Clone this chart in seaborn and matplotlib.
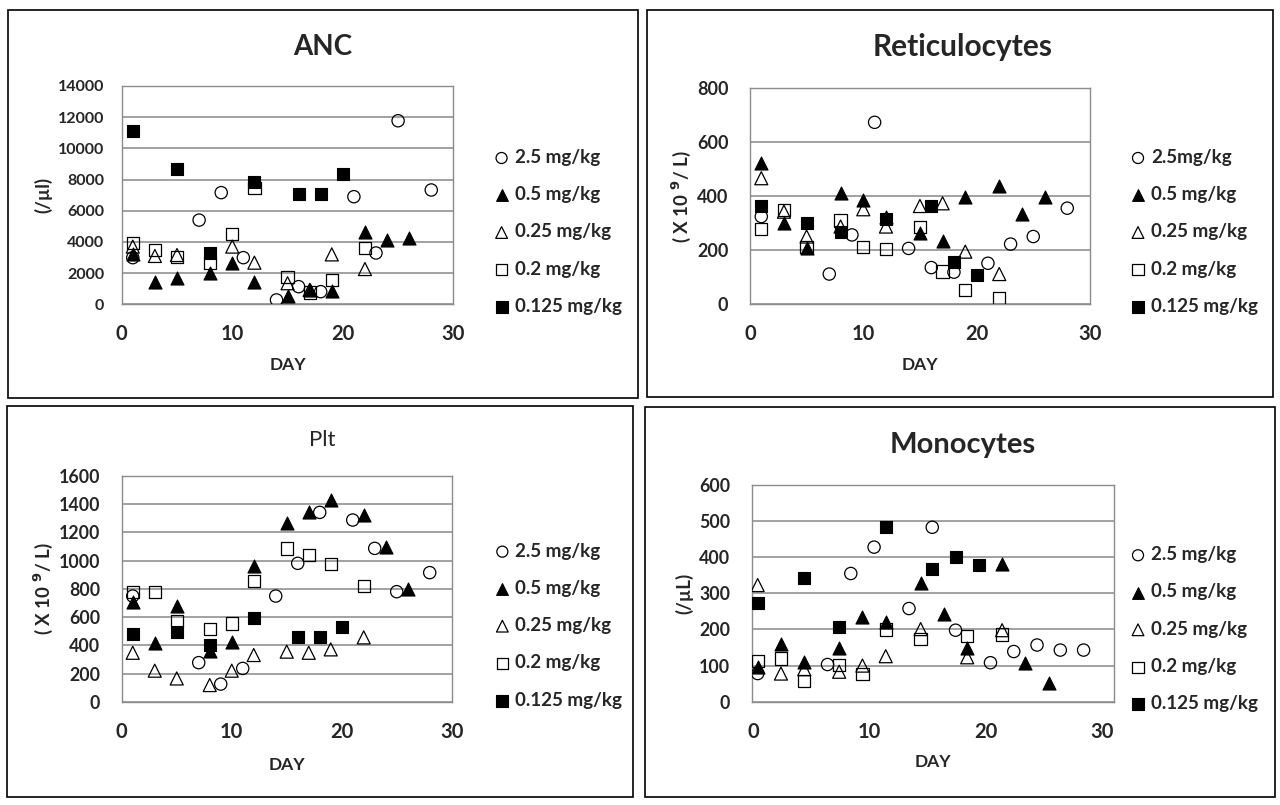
import numpy as np
import pandas as pd
import matplotlib
matplotlib.use('Agg')
import matplotlib.pyplot as plt
import seaborn as sns
from matplotlib.patches import Rectangle

sns.set_style('white')
plt.rcParams['font.family'] = ['Lato', 'DejaVu Sans']

# --- data ---
doses = ['2.5 mg/kg', '0.5 mg/kg', '0.25 mg/kg', '0.2 mg/kg', '0.125 mg/kg']

# ANC (/ul)
anc_day_25 = [1, 7, 9, 11, 14, 16, 18, 21, 23, 25, 28]
anc_val_25 = [2990, 5400, 7160, 2990, 280, 1130, 810, 6900, 3290, 11770, 7330]
anc_day_05 = [1, 3, 5, 8, 10, 12, 15, 17, 19, 22, 24, 26]
anc_val_05 = [3230, 1410, 1670, 1990, 2670, 1410, 530, 920, 880, 4660, 4120, 4230]
anc_day_025 = [1, 3, 5, 10, 12, 15, 17, 19, 22]
anc_val_025 = [3700, 3100, 3160, 3700, 2670, 1350, 920, 3200, 2260]
anc_day_02 = [1, 3, 5, 8, 10, 12, 15, 17, 19, 22]
anc_val_02 = [3910, 3480, 3010, 2630, 4510, 7440, 1730, 750, 1560, 3630]
anc_day_0125 = [1, 5, 8, 12, 16, 18, 20]
anc_val_0125 = [11130, 8650, 3310, 7820, 7050, 7050, 8350]

# Reticulocytes (x10^9/L)
ret_day_25 = [1, 7, 9, 11, 14, 16, 18, 21, 23, 25, 28]
ret_val_25 = [325, 112, 257, 674, 207, 136, 119, 152, 223, 251, 356]
ret_day_05 = [1, 3, 5, 8, 10, 12, 15, 17, 19, 22, 24, 26]
ret_val_05 = [525, 302, 207, 411, 386, 325, 263, 236, 399, 440, 333, 396]
ret_day_025 = [1, 3, 5, 8, 10, 12, 15, 17, 19, 22]
ret_val_025 = [467, 343, 251, 288, 352, 288, 364, 374, 195, 112]
ret_day_02 = [1, 3, 5, 8, 10, 12, 15, 17, 19, 22]
ret_val_02 = [278, 349, 211, 310, 211, 205, 285, 121, 53, 23]
ret_day_0125 = [1, 5, 8, 12, 16, 18, 20]
ret_val_0125 = [365, 302, 269, 315, 364, 158, 109]

# Plt (x10^9/L)
plt_day_25 = [1, 7, 9, 11, 14, 16, 18, 21, 23, 25, 28]
plt_val_25 = [749, 277, 125, 236, 749, 981, 1342, 1288, 1087, 780, 915]
plt_day_05 = [1, 3, 5, 8, 10, 12, 15, 17, 19, 22, 24, 26]
plt_val_05 = [709, 414, 678, 360, 425, 962, 1264, 1347, 1430, 1324, 1094, 796]
plt_day_025 = [1, 3, 5, 8, 10, 12, 15, 17, 19, 22]
plt_val_025 = [347, 220, 165, 118, 220, 331, 355, 347, 371, 456]
plt_day_02 = [1, 3, 5, 8, 10, 12, 15, 17, 19, 22]
plt_val_02 = [780, 780, 572, 513, 555, 858, 1087, 1040, 976, 820]
plt_day_0125 = [1, 5, 8, 12, 16, 18, 20]
plt_val_0125 = [480, 496, 402, 591, 456, 456, 532]

# Monocytes (/uL)
mono_day_25 = [0.4, 6.4, 8.4, 10.4, 13.4, 15.4, 17.4, 20.4, 22.4, 24.4, 26.4, 28.4]
mono_val_25 = [78, 103, 355, 428, 258, 483, 198, 108, 139, 157, 143, 143]
mono_day_05 = [0.4, 2.4, 4.4, 7.4, 9.4, 11.4, 14.4, 16.4, 18.4, 21.4, 23.4, 25.4]
mono_val_05 = [97, 159, 111, 148, 235, 222, 330, 244, 148, 381, 106, 53]
mono_day_025 = [0.4, 2.4, 4.4, 7.4, 9.4, 11.4, 14.4, 18.4, 21.4]
mono_val_025 = [323, 78, 90, 83, 100, 126, 201, 123, 198]
mono_day_02 = [0.4, 2.4, 4.4, 7.4, 9.4, 11.4, 14.4, 18.4, 21.4]
mono_val_02 = [112, 120, 58, 101, 77, 200, 173, 182, 186]
mono_day_0125 = [0.4, 4.4, 7.4, 11.4, 15.4, 17.4, 19.4]
mono_val_0125 = [272, 342, 208, 483, 367, 400, 379]

# marker style per dose: (marker, filled, size)
styles = [('o', False, 78), ('^', True, 88), ('^', False, 88), ('s', False, 78), ('s', True, 78)]

GRID = '#9a9a9a'
SPINE = '#8c8c8c'


def draw_panel(ax, series, ylim, yticks, xlim, ylab, ytick_fs, ypad, labels):
    for (days, vals), (mk, filled, sz), lab in zip(series, styles, labels):
        df = pd.DataFrame({'day': days, 'value': vals})
        if filled:
            sns.scatterplot(data=df, x='day', y='value', ax=ax, marker=mk, s=sz,
                            color='black', edgecolor='black', linewidth=0.8,
                            label=lab, zorder=3)
        else:
            sns.scatterplot(data=df, x='day', y='value', ax=ax, marker=mk, s=sz,
                            facecolor='none', edgecolor='black', linewidth=0.9,
                            label=lab, zorder=3)
    ax.set_xlim(*xlim)
    ax.set_ylim(*ylim)
    ax.set_xticks([0, 10, 20, 30])
    ax.set_yticks(yticks)
    ax.yaxis.grid(True, color=GRID, linewidth=1.3)
    ax.xaxis.grid(False)
    ax.set_axisbelow(True)
    for sp in ax.spines.values():
        sp.set_visible(True)
        sp.set_color(SPINE)
        sp.set_linewidth(1.0)
    ax.tick_params(axis='both', direction='out', length=3.5, color=SPINE, width=1)
    ax.tick_params(axis='y', labelsize=ytick_fs, pad=ypad)
    ax.tick_params(axis='x', labelsize=14.5, pad=11)
    for t in ax.get_xticklabels() + ax.get_yticklabels():
        t.set_fontweight('bold')
    ax.set_xlabel('DAY', fontsize=12.5, fontweight='bold')
    ax.set_ylabel(ylab, fontsize=13.5, fontweight='bold')
    ax.xaxis.label.set_va('center')
    ax.yaxis.label.set_va('center')


fig = plt.figure(figsize=(12.8, 8.05), dpi=100)

# panel frames
W, H = 1280, 805
for x0, y0, x1, y1 in [(8, 10, 638, 398), (647, 10, 1273, 397),
                       (7, 406, 633, 797), (645, 407, 1275, 797)]:
    fig.patches.append(Rectangle((x0 / W, 1 - y1 / H), (x1 - x0) / W, (y1 - y0) / H,
                                 transform=fig.transFigure, fill=False,
                                 edgecolor='black', linewidth=1.2))

ax1 = fig.add_axes([0.0951, 0.622, 0.2591, 0.2712])
ax2 = fig.add_axes([0.5859, 0.622, 0.2656, 0.2683])
ax3 = fig.add_axes([0.0951, 0.1283, 0.2578, 0.2804])
ax4 = fig.add_axes([0.5872, 0.1283, 0.2830, 0.2692])

unit_e9 = r'( X 10 $^{\mathbf{9}}$/ L)'

draw_panel(ax1, [(anc_day_25, anc_val_25), (anc_day_05, anc_val_05), (anc_day_025, anc_val_025),
                 (anc_day_02, anc_val_02), (anc_day_0125, anc_val_0125)],
           (0, 14000), np.arange(0, 14001, 2000), (0, 30), '(/µl)', 11.5, 9, doses)
ret_labels = ['2.5mg/kg'] + doses[1:]
draw_panel(ax2, [(ret_day_25, ret_val_25), (ret_day_05, ret_val_05), (ret_day_025, ret_val_025),
                 (ret_day_02, ret_val_02), (ret_day_0125, ret_val_0125)],
           (0, 800), np.arange(0, 801, 200), (0, 30), unit_e9, 13, 12, ret_labels)
draw_panel(ax3, [(plt_day_25, plt_val_25), (plt_day_05, plt_val_05), (plt_day_025, plt_val_025),
                 (plt_day_02, plt_val_02), (plt_day_0125, plt_val_0125)],
           (0, 1600), np.arange(0, 1601, 200), (0, 30), unit_e9, 12.8, 12, doses)
draw_panel(ax4, [(mono_day_25, mono_val_25), (mono_day_05, mono_val_05), (mono_day_025, mono_val_025),
                 (mono_day_02, mono_val_02), (mono_day_0125, mono_val_0125)],
           (0, 600), np.arange(0, 601, 100), (-0.12, 31), '(/µL)', 12.8, 12, doses)

# axis label positions
for ax in (ax1, ax2, ax3, ax4):
    ax.xaxis.set_label_coords(0.5, -0.28)
ax1.yaxis.set_label_coords(-0.237, 0.5)
ax2.yaxis.set_label_coords(-0.203, 0.5)
ax3.yaxis.set_label_coords(-0.238, 0.5)
ax4.yaxis.set_label_coords(-0.187, 0.5)

# titles
fig.text(0.2523, 0.9416, 'ANC', ha='center', va='center', fontsize=20, fontweight='bold')
fig.text(0.752, 0.9416, 'Reticulocytes', ha='center', va='center', fontsize=21.5, fontweight='bold')
fig.text(0.2515, 0.4534, 'Plt', ha='center', va='center', fontsize=16)
fig.text(0.752, 0.4470, 'Monocytes', ha='center', va='center', fontsize=21, fontweight='bold')

# legends
for ax, (lx, ly) in [(ax1, (0.386, 0.815)), (ax2, (0.8832, 0.815)),
                     (ax3, (0.3866, 0.326)), (ax4, (0.8832, 0.3215))]:
    leg = ax.legend(loc='upper left', bbox_to_anchor=(lx, ly), bbox_transform=fig.transFigure,
                    frameon=False, fontsize=13.5, labelspacing=1.08, handlelength=0.8,
                    handletextpad=0.3, borderpad=0, borderaxespad=0, markerscale=0.9)
    for t in leg.get_texts():
        t.set_fontweight('bold')

fig.savefig('out.png', dpi=100)
